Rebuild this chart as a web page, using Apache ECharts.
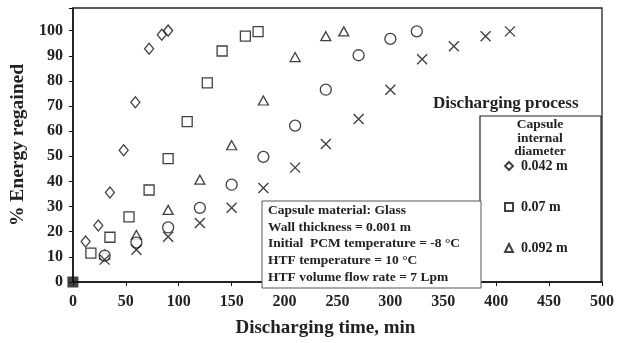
<!DOCTYPE html>
<html>
<head>
<meta charset="utf-8">
<script src="https://cdn.jsdelivr.net/npm/echarts@6/dist/echarts.min.js"></script>
<style>
html,body{margin:0;padding:0;background:#fff;}
#main{width:619px;height:343px;}
</style>
</head>
<body>
<div id="main"></div>
<script>
var myChart = echarts.init(document.getElementById('main'));
var font = '"Liberation Serif","DejaVu Serif",serif';

// capsule 0.042 m (diamonds)
var d042 = [[12,16.1],[24,22.5],[35,35.6],[48,52.4],[59,71.5],[72,92.8],[84,98.4],[90,100]];
// capsule 0.07 m (squares)
var d070 = [[17,11.5],[35,17.8],[53,25.9],[72,36.6],[90,49.1],[108,63.8],[127,79.2],[141,91.9],[163,97.8],[175,99.6]];
// capsule 0.092 m (triangles)
var d092 = [[30,10.9],[60,18.7],[90,28.7],[120,40.7],[150,54.4],[180,72.2],[210,89.5],[239,97.8],[256,99.7]];
// circles
var dCirc = [[30,10.5],[60,15.7],[90,21.7],[120,29.5],[150,38.7],[180,49.8],[210,62.2],[239,76.5],[270,90.2],[300,96.7],[325,99.7]];
// crosses
var dCross = [[30,8.9],[60,12.8],[90,18],[120,23.5],[150,29.5],[180,37.4],[210,45.5],[239,54.9],[270,64.8],[300,76.5],[330,88.6],[360,93.8],[390,97.8],[413,99.7]];
var origin = [[0,0]];

var legendNames = ['0.042 m','0.07 m','0.092 m'];
var infoLines = [
  'Capsule material: Glass',
  'Wall thickness = 0.001 m',
  'Initial  PCM temperature = -8 \u00b0C',
  'HTF temperature = 10 \u00b0C',
  'HTF volume flow rate = 7 Lpm'
];

function hollow(name, data, symbol, size){
    return {
        name: name, type: 'scatter', data: data, symbol: symbol, symbolSize: size,
        itemStyle: {color: '#fff', borderColor: '#111', borderWidth: 1.3},
        z: 3
    };
}

var option = {
    animation: false,
    backgroundColor: '#fff',
    grid: {left: 69, right: 17, top: 8, bottom: 57, show: true, borderColor: '#222', borderWidth: 1.3},
    xAxis: {
        type: 'value', min: 0, max: 500, interval: 50,
        name: 'Discharging time, min', nameLocation: 'middle', nameGap: 37,
        nameTextStyle: {fontFamily: font, fontWeight: 'bold', fontSize: 19, color: '#222', padding: [0, 24, 0, 0]},
        axisLine: {lineStyle: {color: '#111', width: 1.5}},
        axisTick: {show: true, length: 4, lineStyle: {color: '#111'}},
        axisLabel: {fontFamily: font, fontWeight: 'bold', fontSize: 16, color: '#222', margin: 12},
        splitLine: {show: false}
    },
    yAxis: {
        type: 'value', min: 0, max: 109, interval: 10,
        name: '% Energy regained', nameLocation: 'middle', nameGap: 41,
        nameTextStyle: {fontFamily: font, fontWeight: 'bold', fontSize: 19.5, color: '#222'},
        axisLine: {lineStyle: {color: '#111', width: 1.5}},
        axisTick: {show: true, length: 4, lineStyle: {color: '#111'}},
        axisLabel: {fontFamily: font, fontWeight: 'bold', fontSize: 16, color: '#222', margin: 10,
            formatter: function(v){ return v > 100 ? '' : v; }},
        splitLine: {show: false}
    },
    legend: {
        data: legendNames, orient: 'vertical', left: 504, top: 159, padding: 0,
        itemWidth: 8, itemHeight: 8, itemGap: 27,
        textStyle: {fontFamily: font, fontWeight: 'bold', fontSize: 14, color: '#222', lineHeight: 14, padding: [0,0,0,3]}
    },
    graphic: [
        {type: 'text', left: 433, top: 95, style: {text: 'Discharging process', fontFamily: font, fontWeight: 'bold', fontSize: 17, fill: '#222'}},
        {type: 'rect', shape: {x: 480, y: 116, width: 121, height: 166}, style: {fill: 'none', stroke: '#222', lineWidth: 1.2}, z: 10},
        {type: 'text', x: 540, y: 118, style: {text: 'Capsule\ninternal\ndiameter', align: 'center', fontFamily: font, fontWeight: 'bold', fontSize: 13.5, lineHeight: 13.5, fill: '#222'}, z: 10},
        {type: 'rect', shape: {x: 262, y: 201, width: 219, height: 87}, style: {fill: '#fff', stroke: '#555', lineWidth: 1}, z: 10},
        {type: 'text', x: 268, y: 202, style: {text: infoLines.join('\n'), fontFamily: font, fontWeight: 'bold', fontSize: 13.5, lineHeight: 16.7, fill: '#222'}, z: 11}
    ],
    series: [
        hollow('0.042 m', d042, 'diamond', [9, 11]),
        hollow('0.07 m', d070, 'rect', 10),
        hollow('0.092 m', d092, 'triangle', [10, 9]),
        hollow('circle', dCirc, 'circle', 11),
        {
            name: 'cross', type: 'scatter', data: dCross,
            symbol: 'path://M0,0L10,10M10,0L0,10', symbolSize: 10,
            itemStyle: {color: 'none', borderColor: '#111', borderWidth: 1.4}, z: 3
        },
        {
            name: 'origin', type: 'scatter', data: origin, symbol: 'rect', symbolSize: 11,
            itemStyle: {color: '#111'}, z: 4
        }
    ]
};
myChart.setOption(option);
</script>
</body>
</html>
